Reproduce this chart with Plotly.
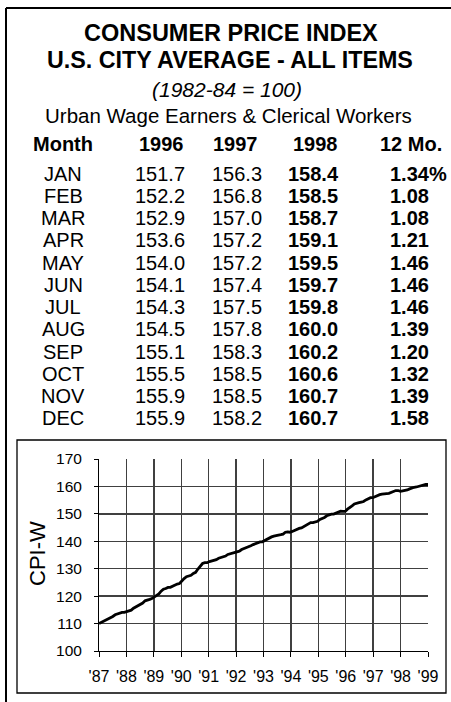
import plotly.graph_objects as go

# ---------------- data ----------------
months = ["JAN", "FEB", "MAR", "APR", "MAY", "JUN", "JUL", "AUG", "SEP", "OCT", "NOV", "DEC"]
cpi_1996 = [151.7, 152.2, 152.9, 153.6, 154.0, 154.1, 154.3, 154.5, 155.1, 155.5, 155.9, 155.9]
cpi_1997 = [156.3, 156.8, 157.0, 157.2, 157.2, 157.4, 157.5, 157.8, 158.3, 158.5, 158.5, 158.2]
cpi_1998 = [158.4, 158.5, 158.7, 159.1, 159.5, 159.7, 159.8, 160.0, 160.2, 160.6, 160.7, 160.7]
change_12mo = ["1.34%", "1.08", "1.08", "1.21", "1.46", "1.46", "1.46", "1.39", "1.20", "1.32", "1.39", "1.58"]

# monthly CPI-W (1987-1995), 1996-1998 from the table
cpiw_1987 = [110.0, 110.4, 110.8, 111.5, 111.9, 112.3, 112.6, 113.2, 113.5, 113.8, 114.1, 114.1]
cpiw_1988 = [114.3, 114.5, 114.9, 115.6, 116.0, 116.5, 117.0, 117.5, 118.3, 118.7, 118.8, 119.1]
cpiw_1989 = [119.7, 120.2, 120.8, 121.8, 122.5, 122.8, 123.2, 123.2, 123.6, 124.2, 124.4, 124.6]
cpiw_1990 = [125.6, 126.4, 127.1, 127.3, 127.6, 128.3, 128.7, 129.9, 131.1, 131.9, 132.2, 132.2]
cpiw_1991 = [132.6, 132.8, 133.0, 133.3, 133.8, 134.1, 134.3, 134.6, 135.2, 135.4, 135.8, 135.9]
cpiw_1992 = [136.0, 136.4, 137.0, 137.3, 137.6, 138.1, 138.4, 138.8, 139.1, 139.6, 139.8, 139.8]
cpiw_1993 = [140.3, 140.7, 141.1, 141.6, 141.9, 142.0, 142.1, 142.4, 142.6, 143.3, 143.4, 143.3]
cpiw_1994 = [143.6, 144.0, 144.4, 144.7, 144.9, 145.4, 145.8, 146.5, 146.8, 146.8, 147.2, 147.3]
cpiw_1995 = [148.0, 148.3, 148.7, 149.3, 149.6, 149.9, 149.9, 150.2, 150.6, 151.0, 150.9, 150.9]

year_labels = ["'87", "'88", "'89", "'90", "'91", "'92", "'93", "'94", "'95", "'96", "'97", "'98", "'99"]
y_ticks = [100, 110, 120, 130, 140, 150, 160, 170]

series = (cpiw_1987 + cpiw_1988 + cpiw_1989 + cpiw_1990 + cpiw_1991 + cpiw_1992
          + cpiw_1993 + cpiw_1994 + cpiw_1995 + cpi_1996 + cpi_1997 + cpi_1998)
x_idx = list(range(len(series)))
n_last = len(series) - 1
x_tickvals = [k * n_last / (len(year_labels) - 1) for k in range(len(year_labels))]

# ---------------- geometry helpers (pixel -> paper) ----------------
W, H = 451, 702
L, R, T, B = 99, 23, 459, 51
PW, PH = W - L - R, H - T - B


def px(x):
    return (x - L) / PW


def py(y):
    return (H - B - y) / PH


FONT = "Liberation Sans, Arial, Helvetica, sans-serif"

fig = go.Figure()
fig.add_trace(go.Scatter(x=x_idx, y=series, mode="lines",
                         line=dict(color="black", width=2.8), hoverinfo="skip",
                         showlegend=False))

ann = []


def text(x, y, s, size, bold=False, italic=False, xanchor="center"):
    if bold:
        s = "<b>" + s + "</b>"
    if italic:
        s = "<i>" + s + "</i>"
    ann.append(dict(x=px(x), y=py(y), xref="paper", yref="paper", text=s,
                    showarrow=False, xanchor=xanchor, yanchor="middle",
                    font=dict(family=FONT, size=size, color="black")))


text(231, 33, "CONSUMER PRICE INDEX", 23.5, bold=True)
text(230, 60, "U.S. CITY AVERAGE - ALL ITEMS", 23.3, bold=True)
text(227, 89.5, "(1982-84 = 100)", 21, italic=True)
text(228, 115, "Urban Wage Earners &amp; Clerical Workers", 20.5)

hy = 143.5
text(63, hy, "Month", 20, bold=True)
text(161, hy, "1996", 20, bold=True)
text(235, hy, "1997", 20, bold=True)
text(315, hy, "1998", 20, bold=True)
text(411, hy, "12 Mo.", 20, bold=True)

row0, dy = 173.5, 22.27
for i, m in enumerate(months):
    y = row0 + i * dy
    text(63, y, m, 20)
    text(160, y, f"{cpi_1996[i]:.1f}", 20)
    text(237, y, f"{cpi_1997[i]:.1f}", 20)
    text(313, y, f"{cpi_1998[i]:.1f}", 20, bold=True)
    text(388, y, change_12mo[i], 20, bold=True, xanchor="left")

# y-axis title
ann.append(dict(x=px(37), y=py(554), xref="paper", yref="paper", text="CPI-W",
                showarrow=False, textangle=-90, xanchor="center", yanchor="middle",
                font=dict(family=FONT, size=22, color="black")))

shapes = [
    # outer frame (top and left)
    dict(type="line", xref="paper", yref="paper", x0=px(6), x1=px(452), y0=py(8), y1=py(8),
         line=dict(color="black", width=2)),
    dict(type="line", xref="paper", yref="paper", x0=px(6), x1=px(6), y0=py(8), y1=py(703),
         line=dict(color="black", width=2)),
    # chart box
    dict(type="rect", xref="paper", yref="paper", x0=px(17), x1=px(446), y0=py(440), y1=py(693),
         line=dict(color="black", width=1.3), layer="below"),
]

fig.update_layout(
    width=W, height=H, autosize=False,
    margin=dict(l=L, r=R, t=T, b=B, pad=0),
    paper_bgcolor="white", plot_bgcolor="white",
    annotations=ann, shapes=shapes,
    font=dict(family=FONT, color="black"),
    xaxis=dict(range=[0, n_last], tickvals=x_tickvals, ticktext=year_labels,
               showgrid=True, gridcolor="#404040", gridwidth=1.4,
               showline=True, linecolor="black", linewidth=1,
               ticks="outside", ticklen=5, tickcolor="black", tickwidth=1,
               ticklabelstandoff=6, zeroline=False,
               tickfont=dict(family=FONT, size=16, color="black")),
    yaxis=dict(range=[100, 170], tickvals=y_ticks,
               showgrid=True, gridcolor="#404040", gridwidth=1.4,
               showline=True, linecolor="black", linewidth=1,
               ticks="outside", ticklen=4, tickcolor="black", tickwidth=1,
               ticklabelstandoff=9, zeroline=False,
               tickfont=dict(family=FONT, size=15.5, color="black")),
)

fig.write_html("out.html", include_plotlyjs=True, full_html=True,
               config={"displayModeBar": False, "staticPlot": True},
               post_script="document.body.style.margin='0';document.body.style.overflow='hidden';")
